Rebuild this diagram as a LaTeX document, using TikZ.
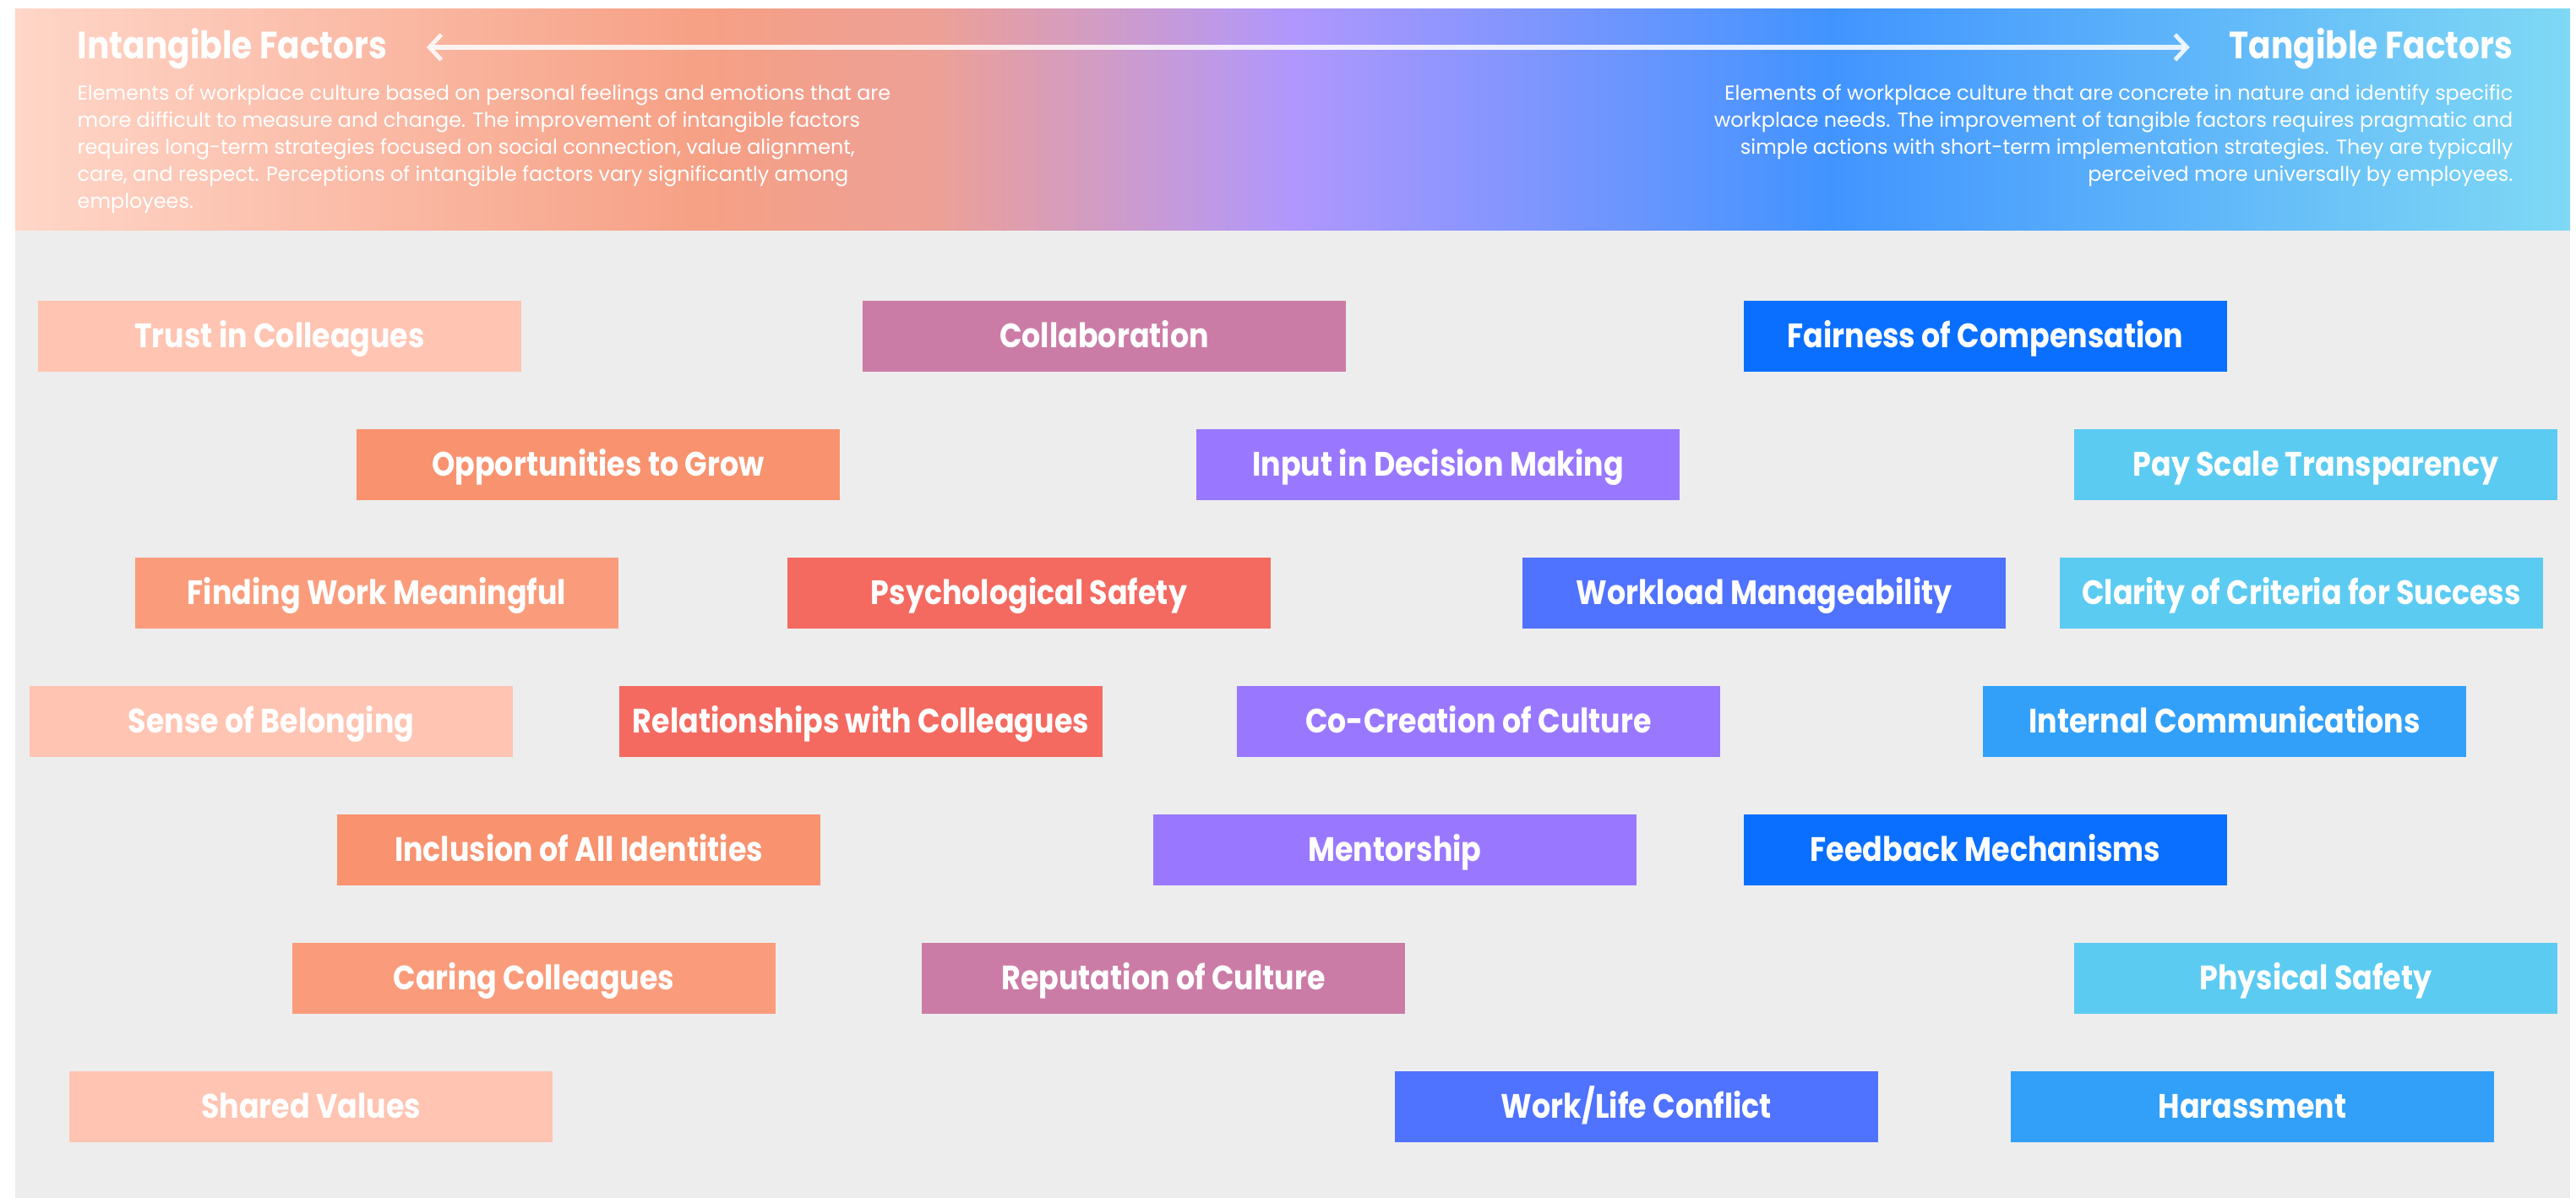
\documentclass[tikz,border=0pt]{standalone}
\usepackage{fontspec}
\newfontfamily\factorfont{Poppins}[FakeStretch=0.87]
\newfontfamily\notefont{Poppins}
\usepackage{tikz}
\usetikzlibrary{arrows.meta,positioning}

\definecolor{hdA}{HTML}{FFD6C8}
\definecolor{hdB}{HTML}{F6A085}
\definecolor{hdC}{HTML}{EDA096}
\definecolor{hdD}{HTML}{B097FD}
\definecolor{hdE}{HTML}{4194FF}
\definecolor{hdF}{HTML}{7FD9F4}
\definecolor{panel}{HTML}{EDEDED}
\definecolor{peach}{HTML}{FFC4B2}
\definecolor{salmon}{HTML}{F8926F}
\definecolor{salmonlt}{HTML}{FA9C7B}
\definecolor{coral}{HTML}{F46A60}
\definecolor{mauve}{HTML}{CB7CA6}
\definecolor{lilac}{HTML}{9978FF}
\definecolor{indigo}{HTML}{4F72FF}
\definecolor{royal}{HTML}{0A6FFF}
\definecolor{azure}{HTML}{32A0F8}
\definecolor{sky}{HTML}{5CCBF2}

\pgfdeclarehorizontalshading{headershade}{100bp}{color(0bp)=(hdA); color(25bp)=(hdA); color(38.5bp)=(hdB); color(43bp)=(hdC); color(50bp)=(hdD); color(60.5bp)=(hdE); color(75bp)=(hdF); color(100bp)=(hdF)}

\tikzset{
  factor/.style={rectangle, minimum width=5.72cm, minimum height=0.84cm, inner sep=0pt, text=white,
    text height=0.28cm, text depth=0cm,
    font=\factorfont\bfseries\fontsize{11.4}{13}\selectfont},
  heading/.style={inner sep=0pt, text=white, font=\factorfont\bfseries\fontsize{12.8}{14}\selectfont},
  note/.style={inner sep=0pt, text=white, font=\notefont\fontsize{6.8}{9.1}\selectfont},
  spectrum/.style={white, opacity=0.85, line width=0.06cm,
    {Straight Barb[length=0.14cm, width=0.3cm, line width=0.05cm]}-{Straight Barb[length=0.14cm, width=0.3cm, line width=0.05cm]}}
}

\begin{document}
\begin{tikzpicture}
      \useasboundingbox (0,0) rectangle (30.49,14.18);
      \fill[panel] (0.18,0) rectangle (30.42,11.45);
      \shade[shading=headershade] (0.18,11.45) rectangle (30.42,14.07);

      \node[heading, anchor=base west] at (0.91,13.48) (intangible) {Intangible Factors};
      \node[heading, anchor=base east] at (29.75,13.48) (tangible) {Tangible Factors};
      \draw[spectrum] ([xshift=0.46cm,yshift=0.14cm]intangible.base east) -- ([xshift=-0.46cm,yshift=0.14cm]tangible.base west);

      \node[note, anchor=north west, align=left] at (0.91,13.18) (intangibletext) {Elements of workplace culture based on personal feelings and emotions that are\\
        more difficult to measure and change. The improvement of intangible factors\\
        requires long-term strategies focused on social connection, value alignment,\\
        care, and respect. Perceptions of intangible factors vary significantly among\\
        employees.};
      \node[note, anchor=north east, align=right] at (29.75,13.18) (tangibletext) {Elements of workplace culture that are concrete in nature and identify specific\\
        workplace needs. The improvement of tangible factors requires pragmatic and\\
        simple actions with short-term implementation strategies. They are typically\\
        perceived more universally by employees.};

      \node[factor, fill=peach] at (3.31,10.20) (trust) {Trust in Colleagues};
      \node[factor, fill=mauve] at (13.07,10.20) (collab) {Collaboration};
      \node[factor, fill=royal] at (23.50,10.20) (fairness) {Fairness of Compensation};

      \node[factor, fill=salmon] at (7.08,8.68) (grow) {Opportunities to Grow};
      \node[factor, fill=lilac] at (17.02,8.68) (input) {Input in Decision Making};
      \node[factor, fill=sky] at (27.41,8.68) (payscale) {Pay Scale Transparency};

      \node[factor, fill=salmonlt] at (4.46,7.16) (meaning) {Finding Work Meaningful};
      \node[factor, fill=coral] at (12.18,7.16) (psych) {Psychological Safety};
      \node[factor, fill=indigo] at (20.88,7.16) (workload) {Workload Manageability};
      \node[factor, fill=sky] at (27.24,7.16) (criteria) {Clarity of Criteria for Success};

      \node[factor, fill=peach] at (3.21,5.64) (belonging) {Sense of Belonging};
      \node[factor, fill=coral] at (10.19,5.64) (relations) {Relationships with Colleagues};
      \node[factor, fill=lilac] at (17.50,5.64) (cocreation) {Co-Creation of Culture};
      \node[factor, fill=azure] at (26.33,5.64) (internal) {Internal Communications};

      \node[factor, fill=salmon] at (6.85,4.12) (inclusion) {Inclusion of All Identities};
      \node[factor, fill=lilac] at (16.51,4.12) (mentor) {Mentorship};
      \node[factor, fill=royal] at (23.50,4.12) (feedback) {Feedback Mechanisms};

      \node[factor, fill=salmonlt] at (6.32,2.60) (caring) {Caring Colleagues};
      \node[factor, fill=mauve] at (13.77,2.60) (reputation) {Reputation of Culture};
      \node[factor, fill=sky] at (27.41,2.60) (physical) {Physical Safety};

      \node[factor, fill=peach] at (3.68,1.08) (shared) {Shared Values};
      \node[factor, fill=indigo] at (19.37,1.08) (worklife) {Work/Life Conflict};
      \node[factor, fill=azure] at (26.66,1.08) (harassment) {Harassment};
\end{tikzpicture}
\end{document}
